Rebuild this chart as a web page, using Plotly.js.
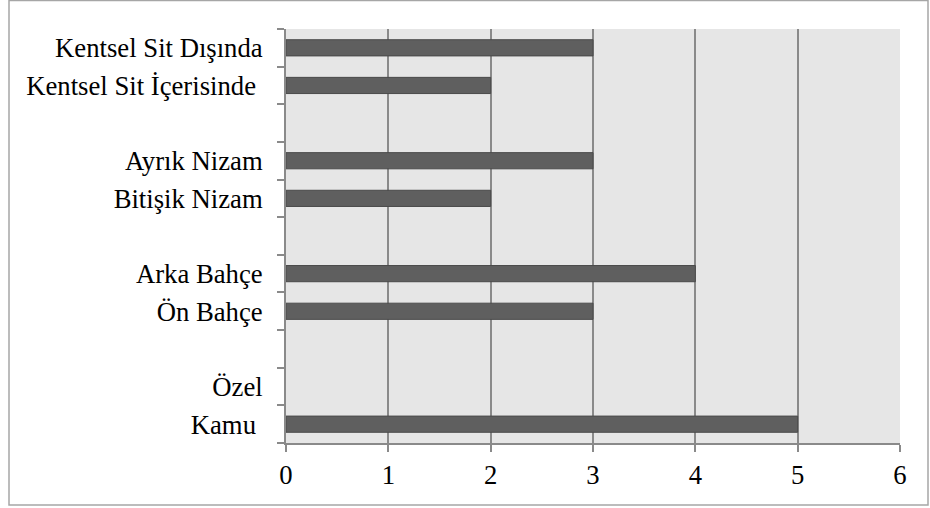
<!DOCTYPE html>
<html>
<head>
<meta charset="utf-8">
<script src="https://cdn.plot.ly/plotly-3.0.1.min.js"></script>
<style>
  html, body { margin: 0; padding: 0; background: #ffffff; }
  #chart { width: 930px; height: 508px; }
</style>
</head>
<body>
<div id="chart"></div>
<script>
// Categories from bottom to top (blank slots separate the groups)
const categories = [
  "Kamu\u00a0",
  "Özel",
  "\u00a0",
  "Ön Bahçe",
  "Arka Bahçe",
  "\u00a0\u00a0",
  "Bitişik Nizam",
  "Ayrık Nizam",
  "\u00a0\u00a0\u00a0",
  "Kentsel Sit İçerisinde\u00a0",
  "Kentsel Sit Dışında"
];
const values = [5, 0, null, 3, 4, null, 2, 3, null, 2, 3];
const xTicks = [0, 1, 2, 3, 4, 5, 6];

const W = 930, H = 508;
const L = 286, R = 30, T = 29, B = 65;
const pw = W - L - R, ph = H - T - B;
const px = v => (v - L) / pw;
const py = v => (H - B - v) / ph;

const trace = {
  type: "bar",
  orientation: "h",
  y: categories,
  x: values,
  width: 0.43,
  marker: {
    color: "#5f5f5f",
    line: { color: "#4a4a4a", width: values.map(v => (v ? 1 : 0)) }
  },
  hoverinfo: "x+y"
};

const mkFont = () => ({ family: "Liberation Serif", size: 26.7, color: "#000000" });

const layout = {
  width: W, height: H,
  margin: { l: L, r: R, t: T, b: B, pad: 0 },
  paper_bgcolor: "#ffffff",
  plot_bgcolor: "#e6e6e6",
  showlegend: false,
  font: mkFont(),
  xaxis: {
    range: [0, 6],
    tickvals: xTicks,
    ticktext: xTicks.map(String),
    showgrid: true,
    gridcolor: "#8a8a8a",
    gridwidth: 2,
    zeroline: false,
    showline: true,
    linecolor: "#8a8a8a",
    linewidth: 2,
    ticks: "outside",
    ticklen: 7,
    tickcolor: "#8a8a8a",
    tickwidth: 2,
    tickfont: mkFont(),
    ticklabelstandoff: 0,
    fixedrange: true
  },
  yaxis: {
    type: "category",
    categoryorder: "array",
    categoryarray: categories,
    range: [-0.5, categories.length - 0.5],
    tickson: "boundaries",
    ticks: "outside",
    ticklen: 7,
    tickcolor: "#8a8a8a",
    tickwidth: 2,
    showgrid: false,
    zeroline: false,
    showline: true,
    linecolor: "#8a8a8a",
    linewidth: 2,
    tickfont: mkFont(),
    ticklabelstandoff: 16,
    fixedrange: true
  },
  shapes: [{
    type: "rect",
    xref: "paper", yref: "paper",
    x0: px(9), x1: px(928), y0: py(505), y1: py(0.5),
    line: { color: "#a6a6a6", width: 1.5 },
    fillcolor: "rgba(0,0,0,0)",
    layer: "below"
  }]
};

Plotly.newPlot("chart", [trace], layout, { displayModeBar: false, staticPlot: true });
</script>
</body>
</html>
